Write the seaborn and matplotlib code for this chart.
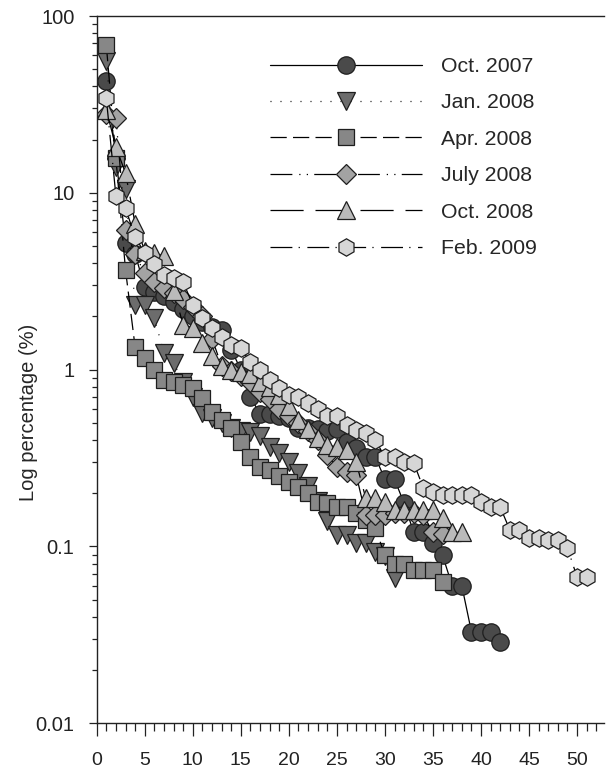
import matplotlib
matplotlib.use("Agg")
import matplotlib.pyplot as plt
import seaborn as sns
import numpy as np
from matplotlib.ticker import LogLocator, FixedLocator, NullFormatter, MultipleLocator

# ---------------- data ----------------
labels = ["Oct. 2007", "Jan. 2008", "Apr. 2008", "July 2008", "Oct. 2008", "Feb. 2009"]

oct2007 = [43, 16, 5.2, 4.5, 2.93, 2.75, 2.6, 2.4, 2.2, 2.0,
           1.85, 1.75, 1.67, 1.3, 1.0, 0.70, 0.56, 0.56, 0.55, 0.53,
           0.47, 0.47, 0.46, 0.45, 0.46, 0.39, 0.36, 0.32, 0.32, 0.24,
           0.24, 0.175, 0.12, 0.12, 0.104, 0.089, 0.06, 0.06, 0.033, 0.033,
           0.033, 0.029]
jan2008 = [56, 14, 10.5, 2.32, 2.32, 1.96, 1.24, 1.09, 0.85, 0.70,
           0.57, 0.53, 0.50, 0.47, 0.45, 0.444, 0.42, 0.365, 0.337, 0.30,
           0.26, 0.22, 0.18, 0.14, 0.116, 0.116, 0.104, 0.104, 0.093, 0.088,
           0.066]
apr2008 = [68.5, 15.7, 3.66, 1.34, 1.17, 1.0, 0.873, 0.85, 0.82, 0.79,
           0.69, 0.576, 0.52, 0.47, 0.39, 0.32, 0.281, 0.27, 0.25, 0.231,
           0.217, 0.20, 0.178, 0.176, 0.167, 0.167, 0.155, 0.141, 0.127, 0.089,
           0.08, 0.08, 0.0735, 0.0735, 0.0735, 0.063]
jul2008 = [28, 26.5, 6.2, 4.5, 3.5, 3.15, 2.9, 2.7, 2.5, 2.25,
           2.0, 1.5, 1.05, 0.98, 0.92, 0.85, 0.75, 0.68, 0.60, 0.55,
           0.50, 0.45, 0.40, 0.33, 0.28, 0.265, 0.255, 0.151, 0.151, 0.15,
           0.155, 0.155, 0.155, 0.15, 0.12, 0.118]
oct2008 = [29.4, 18.2, 12.9, 6.7, 4.7, 4.57, 4.4, 2.8, 1.79, 1.73,
           1.42, 1.2, 1.05, 1.0, 0.97, 0.95, 0.85, 0.8, 0.72, 0.62,
           0.52, 0.46, 0.41, 0.375, 0.365, 0.35, 0.30, 0.188, 0.188, 0.179,
           0.161, 0.161, 0.161, 0.161, 0.161, 0.144, 0.12, 0.12]
feb2009 = [34.3, 9.6, 8.2, 5.6, 4.57, 3.95, 3.43, 3.3, 3.13, 2.32,
           1.96, 1.72, 1.53, 1.38, 1.32, 1.10, 0.995, 0.873, 0.787, 0.718,
           0.70, 0.647, 0.60, 0.55, 0.55, 0.486, 0.455, 0.44, 0.40, 0.32,
           0.32, 0.30, 0.297, 0.214, 0.203, 0.195, 0.195, 0.195, 0.195, 0.179,
           0.167, 0.167, 0.124, 0.124, 0.112, 0.112, 0.109, 0.109, 0.098, 0.067,
           0.067]

series = [oct2007, jan2008, apr2008, jul2008, oct2008, feb2009]
x_ticks = [0, 5, 10, 15, 20, 25, 30, 35, 40, 45, 50]
y_ticks = [0.01, 0.1, 1, 10, 100]
y_ticklabels = ["0.01", "0.1", "1", "10", "100"]

# ---------------- style ----------------
markers = ["o", "v", "s", "D", "^", "h"]
msizes = [12.5, 12.5, 11.0, 10.0, 12.5, 12.5]
faces = ["#4a4a4a", "#6c6c6c", "#878787", "#a3a3a3", "#bababa", "#d6d6d6"]
lstyles = ["-", (0, (0.8, 7.2)), (0, (13, 5)), (0, (17.5, 5.5, 1, 5, 1, 5)),
           (0, (26.5, 9.5)), (0, (17.5, 5, 1, 6))]

sns.set_style("ticks")
plt.rcParams["font.family"] = ["Liberation Sans", "DejaVu Sans"]

fig = plt.figure(figsize=(6.06, 7.71), dpi=100)
ax = fig.add_axes([96.7 / 606, 1 - 723.3 / 771, (604 - 96.7) / 606, (723.3 - 16) / 771])

for lab, vals, mk, ms, fc, ls in zip(labels, series, markers, msizes, faces, lstyles):
    xs = np.arange(1, len(vals) + 1)
    sns.lineplot(x=xs, y=vals, ax=ax, color="black", linewidth=0.9, linestyle=ls,
                 marker=mk, markersize=ms, markerfacecolor=fc,
                 markeredgecolor="#1e1e1e", markeredgewidth=0.9, label=lab,
                 legend=False)

ax.set_yscale("log")
ax.set_ylim(0.01, 100)
ax.set_xlim(0, 52.8)
ax.yaxis.set_major_locator(FixedLocator(y_ticks))
ax.set_yticklabels(y_ticklabels)
ax.yaxis.set_minor_locator(LogLocator(base=10, subs=np.arange(2, 10)))
ax.yaxis.set_minor_formatter(NullFormatter())
ax.xaxis.set_major_locator(FixedLocator(x_ticks))
ax.xaxis.set_minor_locator(MultipleLocator(1))

ax.spines["right"].set_visible(False)
for s in ["left", "bottom", "top"]:
    ax.spines[s].set_linewidth(1.0)
    ax.spines[s].set_color("#222222")

ax.tick_params(axis="both", which="both", direction="out", colors="#222222", width=0.9,
               top=False, right=False)
ax.tick_params(axis="x", which="major", length=9.4, labelsize=14, pad=11.5)
ax.tick_params(axis="x", which="minor", length=5.8)
ax.tick_params(axis="y", which="major", length=6, labelsize=14.5, pad=10)
ax.tick_params(axis="y", which="minor", length=3.6)

ax.set_ylabel("Log percentage (%)", fontsize=14.5)
ax.yaxis.set_label_coords(-0.116, 0.44)

handles, labs = ax.get_legend_handles_labels()
leg = ax.legend(handles, labs, loc="upper left", bbox_to_anchor=(0.3416, 0.942),
                frameon=False, fontsize=15.3, handlelength=7.15, handletextpad=0.9,
                labelspacing=0.82, borderaxespad=0.0, borderpad=0.0)

fig.savefig("out.png", dpi=100)
